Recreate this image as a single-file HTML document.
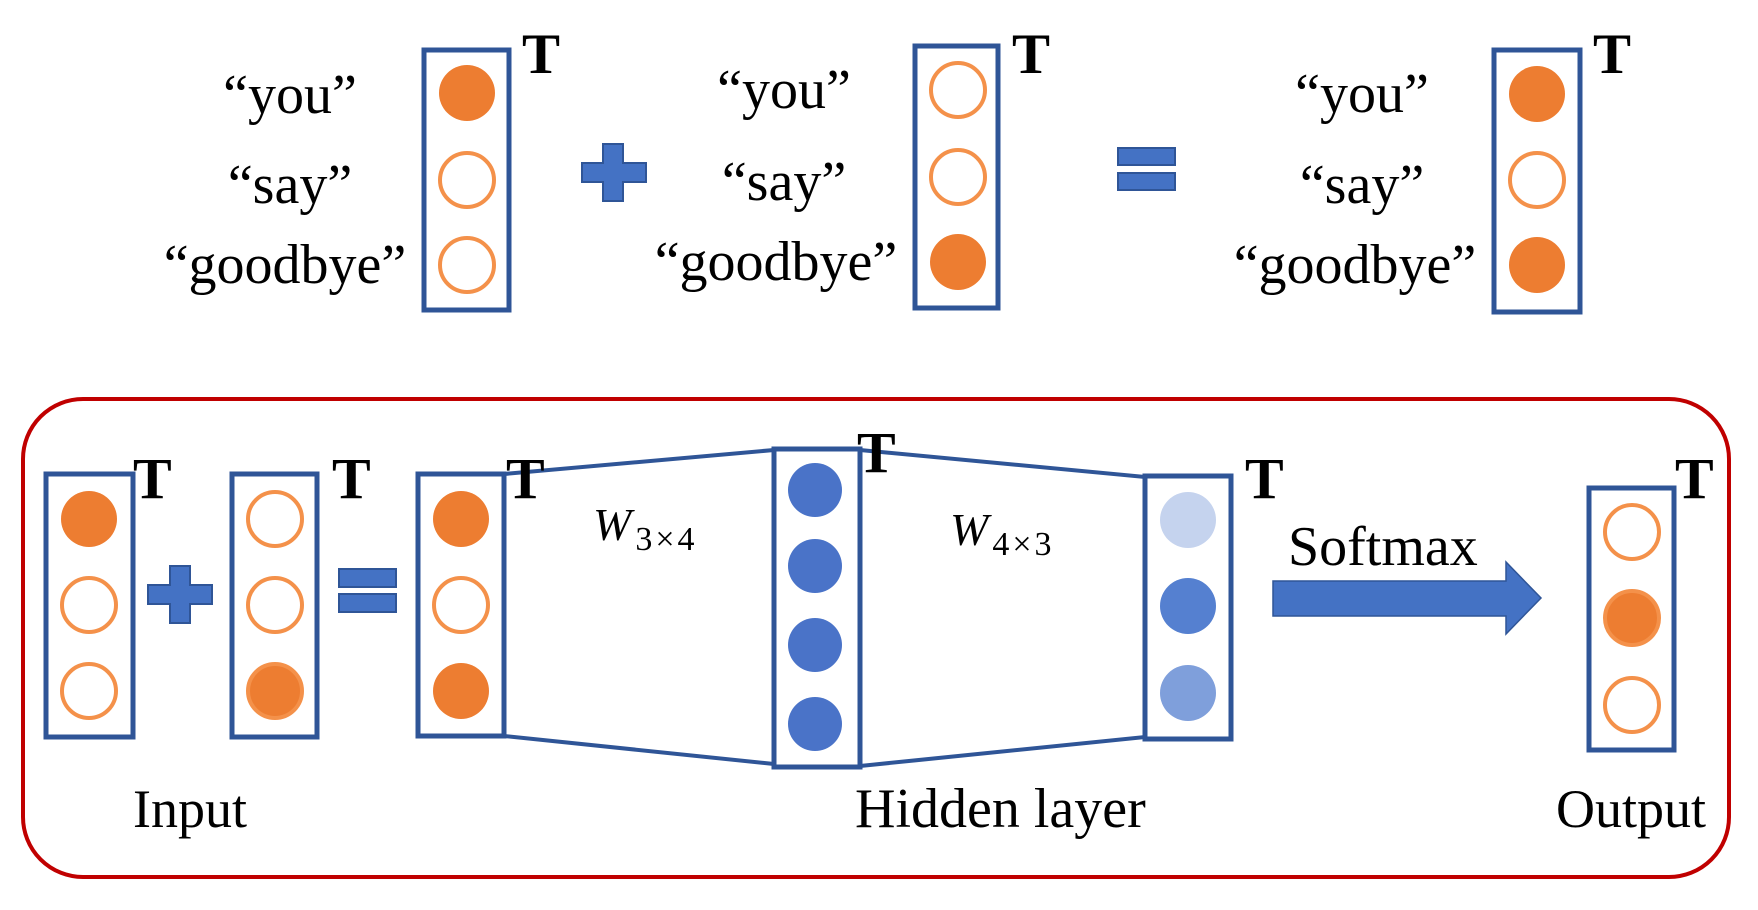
<!DOCTYPE html>
<html><head><meta charset="utf-8"><style>
html,body{margin:0;padding:0;background:#fff;}
svg{display:block;}
text{font-family:"Liberation Serif",serif;fill:#000;}
</style></head><body>
<svg width="1758" height="910" viewBox="0 0 1758 910">
<g>
  <g>
    <text x="290" y="113" font-size="56" text-anchor="middle">“you”</text>
    <text x="290" y="203" font-size="56" text-anchor="middle">“say”</text>
    <text x="285" y="283" font-size="56" text-anchor="middle">“goodbye”</text>
    <rect x="424" y="50" width="85" height="260" fill="none" stroke="#2f5597" stroke-width="5"/>
    <circle cx="467" cy="93" r="28" fill="#ed7d31"/>
    <circle cx="467" cy="180" r="27" fill="#fff" stroke="#f4914a" stroke-width="4"/>
    <circle cx="467" cy="265" r="27" fill="#fff" stroke="#f4914a" stroke-width="4"/>
    <text x="522" y="73" font-size="57" font-weight="bold">T</text>
  </g>
  <path d="M603,144h20v19h23v19h-23v19h-20v-19h-21v-19h21z" fill="#4472c4" stroke="#2f5597" stroke-width="2"/>
  <g>
    <text x="784" y="108" font-size="56" text-anchor="middle">“you”</text>
    <text x="784" y="200" font-size="56" text-anchor="middle">“say”</text>
    <text x="776" y="280" font-size="56" text-anchor="middle">“goodbye”</text>
    <rect x="915" y="46" width="83" height="262" fill="none" stroke="#2f5597" stroke-width="5"/>
    <circle cx="958" cy="90" r="27" fill="#fff" stroke="#f4914a" stroke-width="4"/>
    <circle cx="958" cy="177" r="27" fill="#fff" stroke="#f4914a" stroke-width="4"/>
    <circle cx="958" cy="262" r="28" fill="#ed7d31"/>
    <text x="1012" y="73" font-size="57" font-weight="bold">T</text>
  </g>
  <rect x="1118" y="148" width="57" height="17" fill="#4472c4" stroke="#2f5597" stroke-width="2"/>
  <rect x="1118" y="173" width="57" height="17" fill="#4472c4" stroke="#2f5597" stroke-width="2"/>
  <g>
    <text x="1362" y="112" font-size="56" text-anchor="middle">“you”</text>
    <text x="1362" y="203" font-size="56" text-anchor="middle">“say”</text>
    <text x="1355" y="283" font-size="56" text-anchor="middle">“goodbye”</text>
    <rect x="1494" y="50" width="86" height="262" fill="none" stroke="#2f5597" stroke-width="5"/>
    <circle cx="1537" cy="94" r="28" fill="#ed7d31"/>
    <circle cx="1537" cy="180" r="27" fill="#fff" stroke="#f4914a" stroke-width="4"/>
    <circle cx="1537" cy="265" r="28" fill="#ed7d31"/>
    <text x="1593" y="73" font-size="57" font-weight="bold">T</text>
  </g>
</g>

<g>
  <rect x="23" y="399" width="1706" height="478" rx="60" ry="60" fill="none" stroke="#c00000" stroke-width="4"/>
  <line x1="504" y1="474" x2="774" y2="450" stroke="#2f5597" stroke-width="4"/>
  <line x1="504" y1="736" x2="774" y2="764" stroke="#2f5597" stroke-width="4"/>
  <line x1="860" y1="450" x2="1145" y2="477" stroke="#2f5597" stroke-width="4"/>
  <line x1="860" y1="766" x2="1145" y2="737" stroke="#2f5597" stroke-width="4"/>

  <g>
    <rect x="46" y="474" width="87" height="263" fill="#fff" stroke="#2f5597" stroke-width="5"/>
    <circle cx="89" cy="519" r="28" fill="#ed7d31"/>
    <circle cx="89" cy="605" r="27" fill="#fff" stroke="#f4914a" stroke-width="4"/>
    <circle cx="89" cy="691" r="27" fill="#fff" stroke="#f4914a" stroke-width="4"/>
    <text x="133" y="498" font-size="58" font-weight="bold">T</text>
  </g>
  <path d="M170,566h20v19h22v19h-22v19h-20v-19h-22v-19h22z" fill="#4472c4" stroke="#2f5597" stroke-width="2"/>
  <g>
    <rect x="232" y="474" width="85" height="263" fill="#fff" stroke="#2f5597" stroke-width="5"/>
    <circle cx="275" cy="519" r="27" fill="#fff" stroke="#f4914a" stroke-width="4"/>
    <circle cx="275" cy="605" r="27" fill="#fff" stroke="#f4914a" stroke-width="4"/>
    <circle cx="275" cy="691" r="27" fill="#ed7d31" stroke="#f4914a" stroke-width="4"/>
    <text x="332" y="498" font-size="58" font-weight="bold">T</text>
  </g>
  <rect x="339" y="569" width="57" height="18" fill="#4472c4" stroke="#2f5597" stroke-width="2"/>
  <rect x="339" y="594" width="57" height="18" fill="#4472c4" stroke="#2f5597" stroke-width="2"/>
  <g>
    <rect x="418" y="474" width="86" height="262" fill="#fff" stroke="#2f5597" stroke-width="5"/>
    <circle cx="461" cy="519" r="28" fill="#ed7d31"/>
    <circle cx="461" cy="605" r="27" fill="#fff" stroke="#f4914a" stroke-width="4"/>
    <circle cx="461" cy="691" r="28" fill="#ed7d31"/>
    <text x="506" y="498" font-size="58" font-weight="bold">T</text>
  </g>
  <text x="593" y="540" font-size="46" font-style="italic">W<tspan font-size="34" font-style="normal" dy="10" dx="4" letter-spacing="3">3×4</tspan></text>

  <g>
    <rect x="774" y="449" width="86" height="318" fill="#fff" stroke="#2f5597" stroke-width="5"/>
    <circle cx="815" cy="490" r="27" fill="#4a73c8"/>
    <circle cx="815" cy="566" r="27" fill="#4a73c8"/>
    <circle cx="815" cy="645" r="27" fill="#4a73c8"/>
    <circle cx="815" cy="724" r="27" fill="#4a73c8"/>
    <text x="857" y="472" font-size="58" font-weight="bold">T</text>
  </g>
  <text x="950" y="545" font-size="46" font-style="italic">W<tspan font-size="34" font-style="normal" dy="10" dx="4" letter-spacing="3">4×3</tspan></text>

  <g>
    <rect x="1145" y="476" width="86" height="263" fill="#fff" stroke="#2f5597" stroke-width="5"/>
    <circle cx="1188" cy="520" r="28" fill="#c5d3ee"/>
    <circle cx="1188" cy="606" r="28" fill="#5580d0"/>
    <circle cx="1188" cy="693" r="28" fill="#7f9fdb"/>
    <text x="1245" y="498" font-size="58" font-weight="bold">T</text>
  </g>
  <text x="1288" y="565" font-size="56">Softmax</text>
  <path d="M1273,581H1506V562L1541,598L1506,634V616H1273Z" fill="#4472c4" stroke="#2f5597" stroke-width="1.5"/>

  <g>
    <rect x="1589" y="488" width="85" height="262" fill="#fff" stroke="#2f5597" stroke-width="5"/>
    <circle cx="1632" cy="532" r="27" fill="#fff" stroke="#f4914a" stroke-width="4"/>
    <circle cx="1632" cy="618" r="27" fill="#ed7d31" stroke="#f4914a" stroke-width="4"/>
    <circle cx="1632" cy="705" r="27" fill="#fff" stroke="#f4914a" stroke-width="4"/>
    <text x="1675" y="498" font-size="58" font-weight="bold">T</text>
  </g>

  <text x="133" y="827" font-size="54">Input</text>
  <text x="855" y="827" font-size="56">Hidden layer</text>
  <text x="1556" y="827" font-size="54">Output</text>
</g>
</svg>
</body></html>
